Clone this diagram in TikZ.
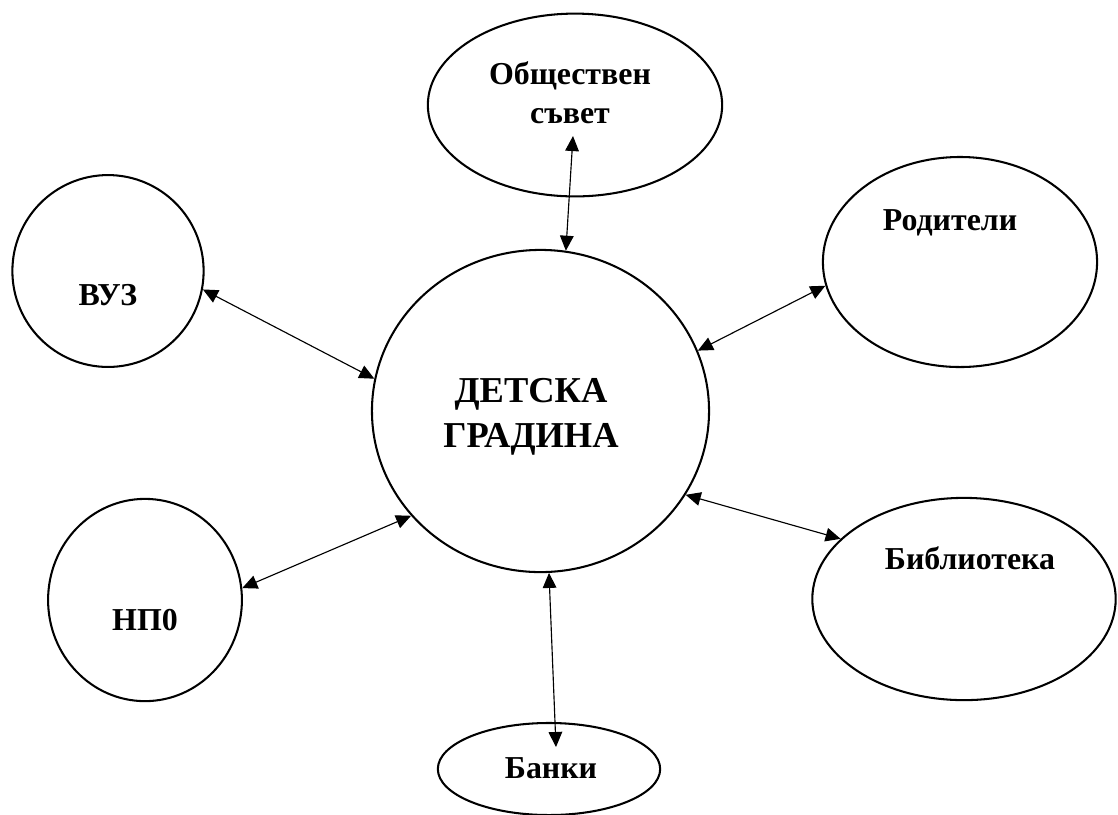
\documentclass[tikz,border=0pt]{standalone}
\usepackage{fontspec}
\setmainfont{Liberation Serif}
\usetikzlibrary{shapes.geometric,arrows.meta}
\tikzset{
	oval/.style={draw,ellipse,line width=0.9pt,inner sep=0pt},
	lbl/.style={font=\bfseries\fontsize{14}{17}\selectfont,align=center,inner sep=0pt},
	biglbl/.style={font=\bfseries\fontsize{16}{20}\selectfont,align=center,inner sep=0pt},
	link/.style={{Triangle[length=6.6pt,width=6pt]}-{Triangle[length=6.6pt,width=6pt]},line width=0.5pt}
}
\begin{document}
\begin{tikzpicture}[x=0.01543cm,y=-0.01543cm]
			\useasboundingbox (0,0) rectangle (1118,814);
			\node[oval,minimum width=5.20cm,minimum height=4.97cm] (kg) at (540.5,411) {};
			\node[oval,minimum width=4.54cm,minimum height=2.82cm] (obsh) at (575,105) {};
			\node[oval,minimum width=2.95cm,minimum height=2.96cm] (vuz) at (108,271) {};
			\node[oval,minimum width=4.23cm,minimum height=3.24cm] (rod) at (960,262) {};
			\node[oval,minimum width=2.99cm,minimum height=3.12cm] (npo) at (145,600) {};
			\node[oval,minimum width=4.68cm,minimum height=3.12cm] (bib) at (964,599) {};
			\node[oval,minimum width=3.43cm,minimum height=1.42cm] (bank) at (549,769) {};
			\node[biglbl] (kgT) at (531,417) {ДЕТСКА\\ГРАДИНА};
			\node[lbl] (obshT) at (570,93) {Обществен\\съвет};
			\node[lbl,anchor=base] (vuzT) at (108,305) {ВУЗ};
			\node[lbl,anchor=base] (rodT) at (950,230) {Родители};
			\node[lbl,anchor=base] (npoT) at (145,630) {НП0};
			\node[lbl,anchor=base] (bibT) at (970,569) {Библиотека};
			\node[lbl,anchor=base] (bankT) at (551,778) {Банки};
			\draw[link] ([shift={(-2,31)}]obsh.center) -- (kg.81.6);
			\draw[link] (vuz.-11) -- (kg.169);
			\draw[link] (kg.21.9) -- (rod.-170.5);
			\draw[link] (kg.-30.5) -- (bib.154.2);
			\draw[link] (npo.7.6) -- (kg.-141.7);
			\draw[link] (kg.-87.5) -- ([shift={(7,-22)}]bank.center);
		\end{tikzpicture}
\end{document}
